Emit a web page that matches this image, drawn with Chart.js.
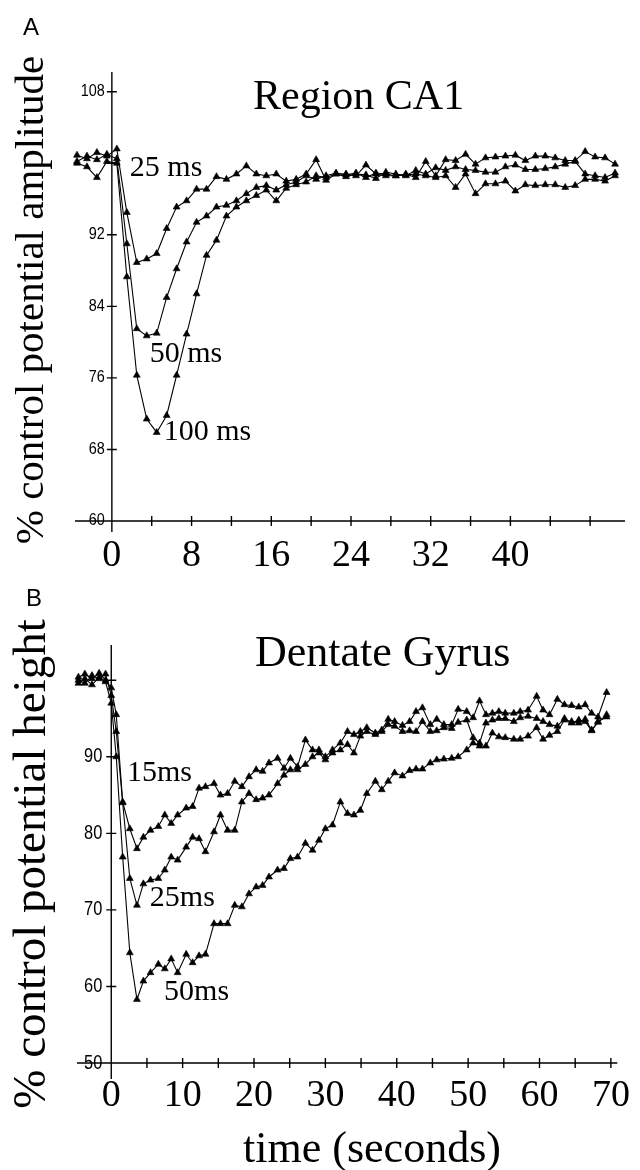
<!DOCTYPE html>
<html><head><meta charset="utf-8">
<script src="https://cdn.jsdelivr.net/npm/chart.js@4.4.1/dist/chart.umd.min.js"></script>
<style>
html,body{margin:0;padding:0;background:#fff;}
#wrap{position:relative;width:640px;height:1170px;overflow:hidden;background:#fff;}
canvas{position:absolute;left:0;}
.t{position:absolute;font-family:"Liberation Serif","Times New Roman",serif;color:#000;line-height:1;white-space:nowrap;}
.rot{transform:translate(-50%,-50%) rotate(-90deg);}
.ctr{transform:translate(-50%,0);}
.lab{position:absolute;font-family:"Liberation Sans",Arial,sans-serif;color:#000;line-height:1;}
</style></head><body>
<div id="wrap">
<canvas id="cA" width="640" height="590" style="top:0"></canvas>
<canvas id="cB" width="640" height="590" style="top:580px"></canvas>
<div class="lab" style="left:23px;top:15px;font-size:24px;">A</div>
<div class="lab" style="left:26px;top:586px;font-size:24px;">B</div>
<div class="t" style="left:253px;top:74px;font-size:42px;">Region CA1</div>
<div class="t" style="left:255px;top:630px;font-size:44px;">Dentate Gyrus</div>
<div class="t rot" style="left:29px;top:300px;font-size:41px;">% control potential amplitude</div>
<div class="t rot" style="left:29px;top:864px;font-size:47px;">% control potential height</div>
<div class="t ctr" style="left:372px;top:1126px;font-size:44px;">time (seconds)</div>
</div>
<script>
// ---------- Panel A: Region CA1 ----------
const timeA = [-3.5,-2.5,-1.5,-0.5,0.5,1.5,2.5,3.5,4.5,5.5,6.5,7.5,8.5,9.5,10.5,11.5,12.5,13.5,14.5,15.5,16.5,17.5,18.5,19.5,20.5,21.5,22.5,23.5,24.5,25.5,26.5,27.5,28.5,29.5,30.5,31.5,32.5,33.5,34.5,35.5,36.5,37.5,38.5,39.5,40.5,41.5,42.5,43.5,44.5,45.5,46.5,47.5,48.5,49.5,50.5];
const ca1_25ms = [100.9,100.5,101.2,100.8,101.6,94.5,88.9,89.3,89.9,92.7,95.1,95.8,97.1,97.1,98.5,98.2,98.8,99.7,98.8,98.6,98.8,98.0,98.2,98.8,100.4,98.1,98.8,98.8,98.6,99.8,98.8,98.6,98.6,98.8,98.4,100.2,98.6,100.4,100.3,101.0,99.9,100.6,100.7,100.8,100.9,100.3,100.8,100.8,100.6,100.3,100.3,101.3,100.7,100.6,99.9];
const ca1_50ms = [100.2,100.8,100.4,101.0,100.5,91.0,81.5,80.7,81.0,85.0,88.2,91.2,93.4,94.1,95.1,95.3,95.8,96.6,97.3,97.5,97.0,97.6,97.9,98.6,98.2,98.6,98.9,98.7,98.9,98.4,98.9,98.8,98.6,98.7,98.8,98.6,98.4,98.6,97.3,98.8,96.6,97.7,97.7,98.0,96.9,97.6,97.5,97.6,97.6,97.3,97.5,98.2,98.2,98.0,98.6];
const ca1_100ms = [100.0,99.6,98.4,100.2,100.0,87.3,76.3,71.4,69.9,71.8,76.3,80.9,85.4,89.7,91.4,94.1,95.1,95.8,96.4,97.0,95.8,97.2,97.6,97.9,98.6,98.4,98.8,98.5,98.8,98.7,98.3,99.0,98.8,98.6,99.2,98.8,99.5,99.2,99.6,99.3,99.2,99.0,99.0,99.6,99.8,99.3,99.3,99.4,99.6,99.9,100.2,98.8,98.6,98.4,98.9];
const xTicksA = [0,4,8,12,16,20,24,28,32,36,40,44,48];
const xLabelsA = [0,8,16,24,32,40];
const yTicksA = [60,68,76,84,92,100,108];
const yLabelsA = [60,68,76,84,92,108];
const noteTextA = ['25 ms','50 ms','100 ms'];
const noteXA = [1.8,3.8,5.2];
const noteYA = [99.45,78.7,69.9];

// ---------- Panel B: Dentate Gyrus ----------
const timeB = [-4.6,-3.7,-2.7,-1.7,-0.8,0,0.7,1.6,2.6,3.6,4.5,5.5,6.6,7.5,8.4,9.3,10.5,11.4,12.3,13.2,14.4,15.3,16.3,17.3,18.3,19.3,20.3,21.2,22.1,23.3,24.2,25.1,26.1,27.2,28.2,29.1,30.0,31.0,32.1,33.1,34.0,34.9,35.8,37.0,37.9,38.8,39.7,40.8,41.8,42.7,43.6,44.7,45.6,46.6,47.7,48.6,49.8,50.7,51.6,52.5,53.4,54.3,55.2,56.4,57.3,58.4,59.6,60.5,61.4,62.5,63.5,64.5,65.5,66.4,67.3,68.2,69.4];
const dg_15ms = [100.4,100.8,100.2,100.9,100.0,99.0,95.5,84.1,80.6,78.0,79.5,80.4,80.9,82.4,81.3,82.4,83.3,83.5,85.9,86.1,86.5,85.0,85.2,86.8,86.1,87.4,88.3,88.1,89.2,89.8,88.5,89.8,88.7,92.2,90.9,90.9,90.0,90.9,91.8,93.3,92.9,93.3,93.8,93.1,93.5,94.9,94.6,94.1,94.6,95.9,96.4,94.2,94.9,94.2,94.2,96.2,95.9,95.1,97.3,95.5,95.7,95.9,95.7,95.7,95.9,96.1,97.9,96.1,95.5,97.5,96.8,96.7,96.5,96.8,95.7,95.2,98.4];
const dg_25ms = [100.0,99.6,100.6,100.2,100.8,98.0,93.3,84.0,74.1,70.6,73.4,73.9,74.1,75.2,76.9,76.5,78.2,79.5,79.3,77.6,80.2,82.4,80.4,80.4,84.1,85.2,84.4,84.6,85.0,86.5,87.6,88.3,88.3,89.0,90.0,90.5,89.6,90.5,90.9,91.6,90.5,92.7,93.3,92.9,93.3,94.2,94.0,93.3,93.4,93.3,94.6,93.3,93.4,93.8,93.7,94.5,94.8,92.5,91.8,94.4,94.8,95.0,95.0,94.6,95.1,95.3,95.0,94.6,94.2,94.0,95.0,94.4,94.8,94.6,93.4,94.6,95.2];
const dg_50ms = [99.6,100.2,99.4,100.4,99.8,97.0,90.0,76.9,64.4,58.3,60.7,61.8,62.9,62.3,63.6,61.8,64.2,63.1,64.0,64.2,68.2,68.2,68.2,70.6,70.4,72.1,73.0,73.2,74.3,75.2,75.4,76.7,76.9,78.7,77.8,79.1,80.6,81.1,84.1,82.6,82.4,83.0,85.2,86.8,85.7,86.8,87.9,87.5,88.2,88.4,88.4,89.2,89.6,89.7,89.8,90.0,90.9,91.8,91.4,91.4,93.1,92.6,92.5,92.3,92.3,92.7,93.8,92.3,92.8,93.3,94.8,94.6,94.4,94.9,93.5,94.5,95.5];
const xTicksB = [0,5,10,15,20,25,30,35,40,45,50,55,60,65,70];
const xLabelsB = [0,10,20,30,40,50,60,70];
const yTicksB = [50,60,70,80,90,100];
const yLabelsB = [50,60,70,80,90];
const noteTextB = ['15ms','25ms','50ms'];
const noteXB = [2.2,5.4,7.4];
const noteYB = [87.9,71.6,59.2];

const pts = (t, v) => t.map((x, i) => ({x: x, y: v[i]}));
const ds = (t, v) => ({
  data: pts(t, v), borderColor:'#000', borderWidth:1.1, tension:0, clip:false,
  pointStyle:'triangle', pointRadius:4, pointBackgroundColor:'#000', pointBorderColor:'#000', pointBorderWidth:0.6
});

const axesPlugin = {
  id: 'figAxes',
  beforeDatasetsDraw(chart, args, o) {
    const {ctx, chartArea:a, scales:{x, y}} = chart;
    const x0 = x.getPixelForValue(0), yb = y.getPixelForValue(y.min);
    ctx.save();
    ctx.strokeStyle = '#000'; ctx.lineWidth = 1.4;
    ctx.beginPath();
    ctx.moveTo(a.left, yb); ctx.lineTo(a.right, yb);
    ctx.moveTo(x0, a.top); ctx.lineTo(x0, yb + o.yExtend);
    x.ticks.forEach(t => { if (t.value === 0) return; const p = x.getPixelForValue(t.value); ctx.moveTo(p, yb - 5); ctx.lineTo(p, yb + 5); });
    y.ticks.forEach(t => { const p = y.getPixelForValue(t.value); ctx.moveTo(x0 - 5, p); ctx.lineTo(x0 + 5, p); });
    ctx.stroke();
    ctx.fillStyle = '#000';
    ctx.font = o.yFont; ctx.textAlign = 'right'; ctx.textBaseline = 'middle';
    y.ticks.forEach(t => {
      if (!o.yLabels.includes(t.value)) return;
      const p = y.getPixelForValue(t.value);
      ctx.save(); ctx.translate(x0 - o.yGap, p); ctx.scale(o.ySqueeze, 1);
      ctx.fillText(String(t.value), 0, 0); ctx.restore();
    });
    ctx.restore();
  },
  afterDatasetsDraw(chart, args, o) {
    const {ctx, scales:{x, y}} = chart;
    ctx.save();
    ctx.fillStyle = '#000'; ctx.font = o.noteFont; ctx.textAlign = 'left'; ctx.textBaseline = 'middle';
    o.notes.text.forEach((s, i) => ctx.fillText(s, x.getPixelForValue(o.notes.x[i]), y.getPixelForValue(o.notes.y[i])));
    ctx.restore();
  }
};

function makeChart(id, cfg) {
  return new Chart(document.getElementById(id), {
    type: 'line',
    data: { datasets: cfg.series.map(v => ds(cfg.time, v)) },
    options: {
      responsive:false, animation:false, devicePixelRatio:1, events:[],
      layout: { padding: cfg.pad },
      plugins: { legend:{display:false}, tooltip:{enabled:false}, figAxes: cfg.axes },
      scales: {
        x: {
          type:'linear', min:cfg.xMin, max:cfg.xMax,
          afterBuildTicks: s => { s.ticks = cfg.xTicks.map(v => ({value:v})); },
          afterFit: s => { s.height = cfg.xHeight; },
          grid:{display:false, drawTicks:false}, border:{display:false},
          ticks:{ autoSkip:false, maxRotation:0, minRotation:0, padding:cfg.xPad, color:'#000',
            font:{family:'"Liberation Serif", "Times New Roman", serif', size:38},
            callback: v => cfg.xLabels.includes(v) ? String(v) : '' }
        },
        y: {
          type:'linear', min:cfg.yMin, max:cfg.yMax,
          afterBuildTicks: s => { s.ticks = cfg.yTicks.map(v => ({value:v})); },
          afterFit: s => { s.width = 0; },
          grid:{display:false, drawTicks:false}, border:{display:false},
          ticks:{display:false}
        }
      }
    },
    plugins: [axesPlugin]
  });
}

makeChart('cA', {
  time: timeA, series: [ca1_25ms, ca1_50ms, ca1_100ms],
  pad: {left:75, right:15, top:72, bottom:0},
  xMin:-3.7, xMax:51.5, yMin:60, yMax:110.2, xHeight:69, xPad:12,
  xTicks:xTicksA, xLabels:xLabelsA, yTicks:yTicksA,
  axes: { yExtend:11, yLabels:yLabelsA, yFont:'16px "Liberation Sans Narrow", "Liberation Sans", sans-serif', yGap:7, ySqueeze:0.9,
          noteFont:'30px "Liberation Serif", serif', notes:{text:noteTextA, x:noteXA, y:noteYA} }
});
makeChart('cB', {
  time: timeB, series: [dg_15ms, dg_25ms, dg_50ms],
  pad: {left:77, right:10, top:65, bottom:0},
  xMin:-4.8, xMax:70.9, yMin:50, yMax:104.6, xHeight:107, xPad:10,
  xTicks:xTicksB, xLabels:xLabelsB, yTicks:yTicksB,
  axes: { yExtend:16, yLabels:yLabelsB, yFont:'20px "Liberation Sans Narrow", "Liberation Sans", sans-serif', yGap:9, ySqueeze:0.82,
          noteFont:'30px "Liberation Serif", serif', notes:{text:noteTextB, x:noteXB, y:noteYB} }
});
</script>
</body></html>
